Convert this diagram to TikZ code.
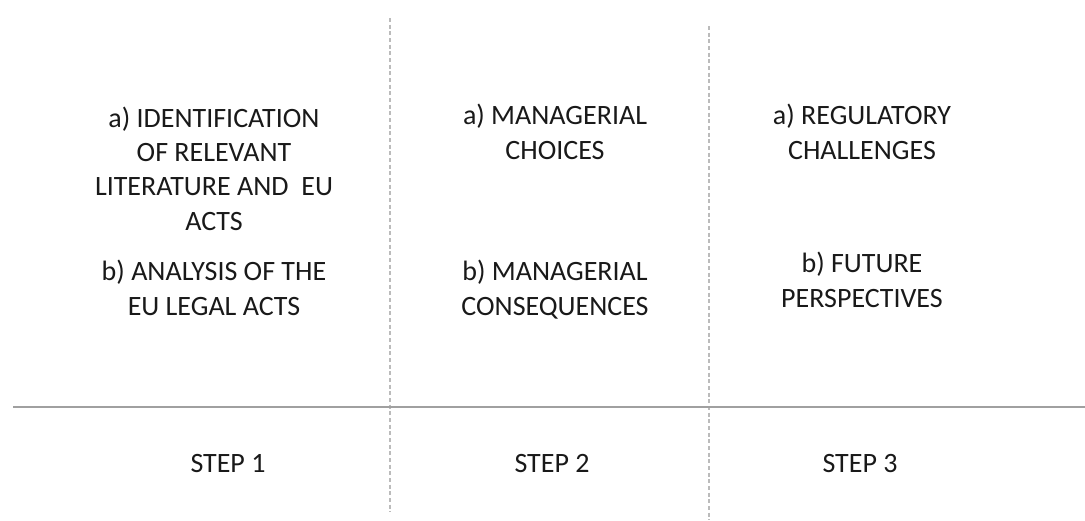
\documentclass[tikz,border=0pt]{standalone}
\usepackage{fontspec}
\setmainfont{Carlito}
\usepackage{tikz}
\usepackage{xcolor}
\usetikzlibrary{positioning}

\definecolor{rulegray}{HTML}{A0A0A0}
\definecolor{dashgray}{HTML}{BBBBBB}

\begin{document}
\begin{tikzpicture}[
            x=0.75pt, y=-0.75pt,
            itemtext/.style={anchor=base, align=center, inner sep=0pt,
                font=\fontsize{21}{25.7}\selectfont, text=black!90},
            steplabel/.style={itemtext},
            divider/.style={draw=dashgray, line width=1pt, dash pattern=on 3pt off 2pt},
        ]
            \useasboundingbox (0,0) rectangle (1085,521);

            % column dividers
            \coordinate (divAtop) at (390,18);
            \coordinate (divAbot) at (390,512);
            \coordinate (divBtop) at (709,26);
            \coordinate (divBbot) at (709,520);
            \draw[divider] (divAtop) -- (divAbot);
            \draw[divider] (divBtop) -- (divBbot);

            % rule above the steps
            \coordinate (ruleL) at (13,407);
            \coordinate (ruleR) at (1085,407);
            \draw[rulegray, line width=1.5pt] (ruleL) -- (ruleR);

            % step 1 (base = last line)
            \node[itemtext] (identification) at (214,230)
                {a) IDENTIFICATION\\ OF RELEVANT\\ LITERATURE AND\ \ EU\\ ACTS};
            \node[itemtext] (analysis) at (214,315)
                {b) ANALYSIS OF THE\\ EU LEGAL ACTS};

            % step 2
            \node[itemtext] (choices) at (555,159)
                {a) MANAGERIAL\\ CHOICES};
            \node[itemtext] (consequences) at (555,315)
                {b) MANAGERIAL\\ CONSEQUENCES};

            % step 3
            \node[itemtext] (challenges) at (862,159)
                {a) REGULATORY\\ CHALLENGES};
            \node[itemtext] (perspectives) at (862,307)
                {b) FUTURE\\ PERSPECTIVES};

            \node[steplabel] (stepOne) at (228,472) {STEP 1};
            \node[steplabel] (stepTwo) at (552,472) {STEP 2};
            \node[steplabel] (stepThree) at (860,472) {STEP 3};
        \end{tikzpicture}
\end{document}
